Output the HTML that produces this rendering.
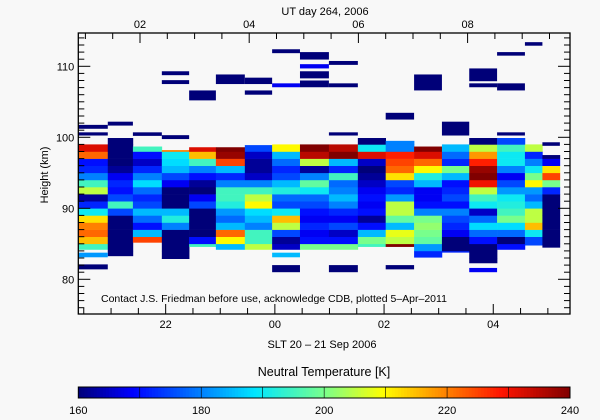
<!DOCTYPE html>
<html><head><meta charset="utf-8">
<style>
body{margin:0;background:#f8f8f8;}
svg{display:block;font-family:"Liberation Sans",sans-serif;}
</style></head>
<body>
<svg id="c" width="600" height="420" viewBox="0 0 600 420">
<rect width="600" height="420" fill="#f8f8f8"/>
<g id="cells"></g>
<g id="axes"></g>
<text x="325" y="15" font-size="11" text-anchor="middle">UT day 264, 2006</text>
<text x="322" y="348" font-size="11" text-anchor="middle">SLT 20 – 21 Sep 2006</text>
<text x="48" y="175" font-size="11" text-anchor="middle" transform="rotate(-90 48 175)">Height (km)</text>
<text x="101" y="302" font-size="10.5">Contact J.S. Friedman before use, acknowledge CDB, plotted 5–Apr–2011</text>
<text x="324" y="376" font-size="12.5" text-anchor="middle">Neutral Temperature [K]</text>
<g id="cbar"></g>
</svg>
<script>
const colStart=[20.4,20.94,21.4,21.93,22.43,22.92,23.45,23.95,24.46,24.99,25.52,26.03,26.55,27.06,27.56,28.07,28.58,28.9];
const colEnd=[20.94,21.4,21.93,22.43,22.92,23.45,23.95,24.46,24.99,25.52,26.03,26.55,27.06,27.56,28.07,28.58,28.9,29.22];
const colBot=[84.2,83.3,85.2,82.9,84.6,84.2,84.2,84.2,84.2,84.2,84.6,84.6,83.1,83.8,82.3,84.2,84.8,84.5];
const colTop=[99.1,99.9,98.7,98.2,98.6,98.6,98.9,99.0,99.0,99.0,99.9,99.5,98.7,99.0,99.9,99.9,99.0,97.5];
const colBase=[84,83,85,82,84,84,84,84,84,84,84,84,83,83,82,84,84,84];
const temps=[
[195,215,222,220,212,190,172,162,205,195,180,172,170,222,232],
[160,160,160,160,160,160,175,195,175,170,172,168,162,160,160,160,160],
[225,185,170,178,185,175,172,178,188,180,172,165,170,195],
[160,160,160,160,160,180,192,185,160,160,160,168,175,185,188,190,220],
[195,170,160,160,160,160,175,168,160,162,170,180,195,215,232],
[185,210,222,185,178,182,192,195,195,180,172,185,225,238,240],
[205,195,195,180,185,188,210,205,195,180,165,162,162,165,175],
[165,162,175,205,215,190,175,178,192,185,175,172,178,185,210],
[200,170,168,172,168,170,175,178,190,198,180,162,205,235,240],
[200,170,165,175,168,172,180,185,180,178,195,172,185,240,235],
[195,200,185,170,162,170,168,170,168,165,162,160,165,232,190,160],
[240,205,208,185,198,205,205,182,172,175,212,222,225,228,180,180],
[172,182,198,200,202,200,180,170,168,168,185,192,210,222,232,240],
[172,160,160,168,172,175,180,170,175,172,170,185,200,172,178,185],
[160,160,160,170,178,188,178,165,190,195,205,230,240,238,228,218,205,160],
[170,160,178,188,200,195,192,190,182,175,168,180,190,190,195,175],
[175,175,190,215,205,205,185,178,182,210,200,190,180,172,205],
[160,160,160,160,160,160,160,160,172,200,225,212,168,160]
];
const extraCol=[0,0,0,0,1,2,3,3,3,4,5,6,6,7,7,7,7,8,8,8,8,9,9,9,9,11,11,12,13,14,14,14,15,15,15,16,17];
const extraLo=[101.2,100.25,81.4,83.1,101.65,100.2,108.75,107.5,99.75,105.2,107.5,107.5,106.0,111.85,107.05,83.1,81.0,110.95,109.7,108.3,107.05,110.2,107.05,100.25,81.0,102.5,81.4,106.6,100.25,107.9,107.05,81.0,111.5,106.6,100.25,112.9,98.8];
const extraHi=[101.75,100.7,82.1,83.75,102.2,100.7,109.3,108.05,100.3,106.6,108.85,108.4,106.6,112.4,107.6,83.75,82.0,112.0,110.3,109.3,108.0,110.75,107.6,100.7,82.0,103.45,82.0,108.85,102.2,109.7,107.6,81.6,112.0,107.6,100.7,113.4,99.3];
const extraT=[160,160,160,182,160,160,160,160,160,160,160,160,160,160,168,185,160,160,168,160,160,160,160,160,160,160,160,160,160,160,160,168,160,160,160,160,160];
const yTicks=[80,90,100,110];
const xTickHours=[22,24,26,28];
const xTickLabels=["22","00","02","04"];
const utTicks=[2,4,6,8];
const utLabels=["02","04","06","08"];
const cbTicks=[160,180,200,220,240];

const L=78.3,R=570,T=33,B=314;
const xs=h=>L+(h-20.4)*54.6;
const xut=u=>L+(u+19.53-20.4)*54.6;
const ys=k=>279.3-(k-80)*7.1;
const NS="http://www.w3.org/2000/svg";
function jet(t){
  const v=Math.max(0,Math.min(1,(t-160)/80));
  const st=[[0,0,0,120],[0.11,0,0,255],[0.36,0,230,255],[0.5,120,255,140],[0.62,255,255,0],[0.86,255,20,0],[1,128,0,0]];
  for(let i=1;i<st.length;i++){if(v<=st[i][0]){const a=st[i-1],b=st[i],f=(v-a[0])/(b[0]-a[0]);
    return `rgb(${Math.round(a[1]+f*(b[1]-a[1]))},${Math.round(a[2]+f*(b[2]-a[2]))},${Math.round(a[3]+f*(b[3]-a[3]))})`;}}
  return "rgb(128,0,0)";
}
function mk(tag,attrs,parent){const e=document.createElementNS(NS,tag);for(const k in attrs)e.setAttribute(k,attrs[k]);parent.appendChild(e);return e;}
const cells=document.getElementById('cells');
temps.forEach((col,i)=>{
  col.forEach((t,j)=>{
    const lo=Math.max(colBase[i]+j,colBot[i]),hi=Math.min(colBase[i]+j+1,colTop[i]);
    if(hi<=lo)return;
    const x0=xs(colStart[i]),x1=xs(colEnd[i]);
    const r=mk('rect',{x:x0,y:ys(hi),width:x1-x0+0.3,height:ys(lo)-ys(hi)+0.3,fill:jet(t)},cells);
    
    
  });
});
extraCol.forEach((c,i)=>{
  const x0=xs(colStart[c]),x1=xs(colEnd[c]);
  const r=mk('rect',{x:x0,y:ys(extraHi[i]),width:x1-x0,height:ys(extraLo[i])-ys(extraHi[i]),fill:jet(extraT[i])},cells);
  
  
});
const ax=document.getElementById('axes');
mk('rect',{x:L,y:T,width:R-L,height:B-T,fill:'none',stroke:'#000','stroke-width':1.3},ax);
for(let k=76;k<=114;k++){
  const y=ys(k),len=(k%10===0)?12:6;
  mk('line',{x1:L,y1:y,x2:L+len,y2:y,stroke:'#000'},ax);
  mk('line',{x1:R,y1:y,x2:R-len,y2:y,stroke:'#000'},ax);
}
yTicks.forEach(k=>{const t=mk('text',{x:L-4,y:ys(k)+4,'font-size':11,'text-anchor':'end'},ax);t.textContent=k;
  });
for(let h=20.5;h<=29.4;h+=0.5){const x=xs(h),maj=Number.isInteger(h)&&h%2===0;
  mk('line',{x1:x,y1:B,x2:x,y2:B-(maj?10:6),stroke:'#000'},ax);}
for(let u=1;u<=10;u+=0.5){const x=xut(u);if(x<L||x>R)continue;const maj=Number.isInteger(u)&&u%2===0;
  mk('line',{x1:x,y1:T,x2:x,y2:T+(maj?10:6),stroke:'#000'},ax);}
xTickHours.forEach((h,i)=>{const t=mk('text',{x:xs(h),y:B+14,'font-size':11,'text-anchor':'middle'},ax);t.textContent=xTickLabels[i];
  });
utTicks.forEach((u,i)=>{const t=mk('text',{x:xut(u),y:T-5,'font-size':11,'text-anchor':'middle'},ax);t.textContent=utLabels[i];
  });
const cb=document.getElementById('cbar');
const cx=v=>L+(v-160)/80*(R-L);
for(let v=160;v<240;v+=0.5){mk('rect',{x:cx(v),y:387,width:(R-L)/160+0.4,height:11,fill:jet(v+0.25)},cb);}
mk('rect',{x:L,y:387,width:R-L,height:11,fill:'none',stroke:'#000'},cb);
for(let v=170;v<240;v+=10){mk('line',{x1:cx(v),y1:387,x2:cx(v),y2:398,stroke:'#000','stroke-width':0.6},cb);}
cbTicks.forEach(v=>{const t=mk('text',{x:cx(v),y:414,'font-size':11,'text-anchor':'middle'},cb);t.textContent=v;
  });
</script>
</body></html>
